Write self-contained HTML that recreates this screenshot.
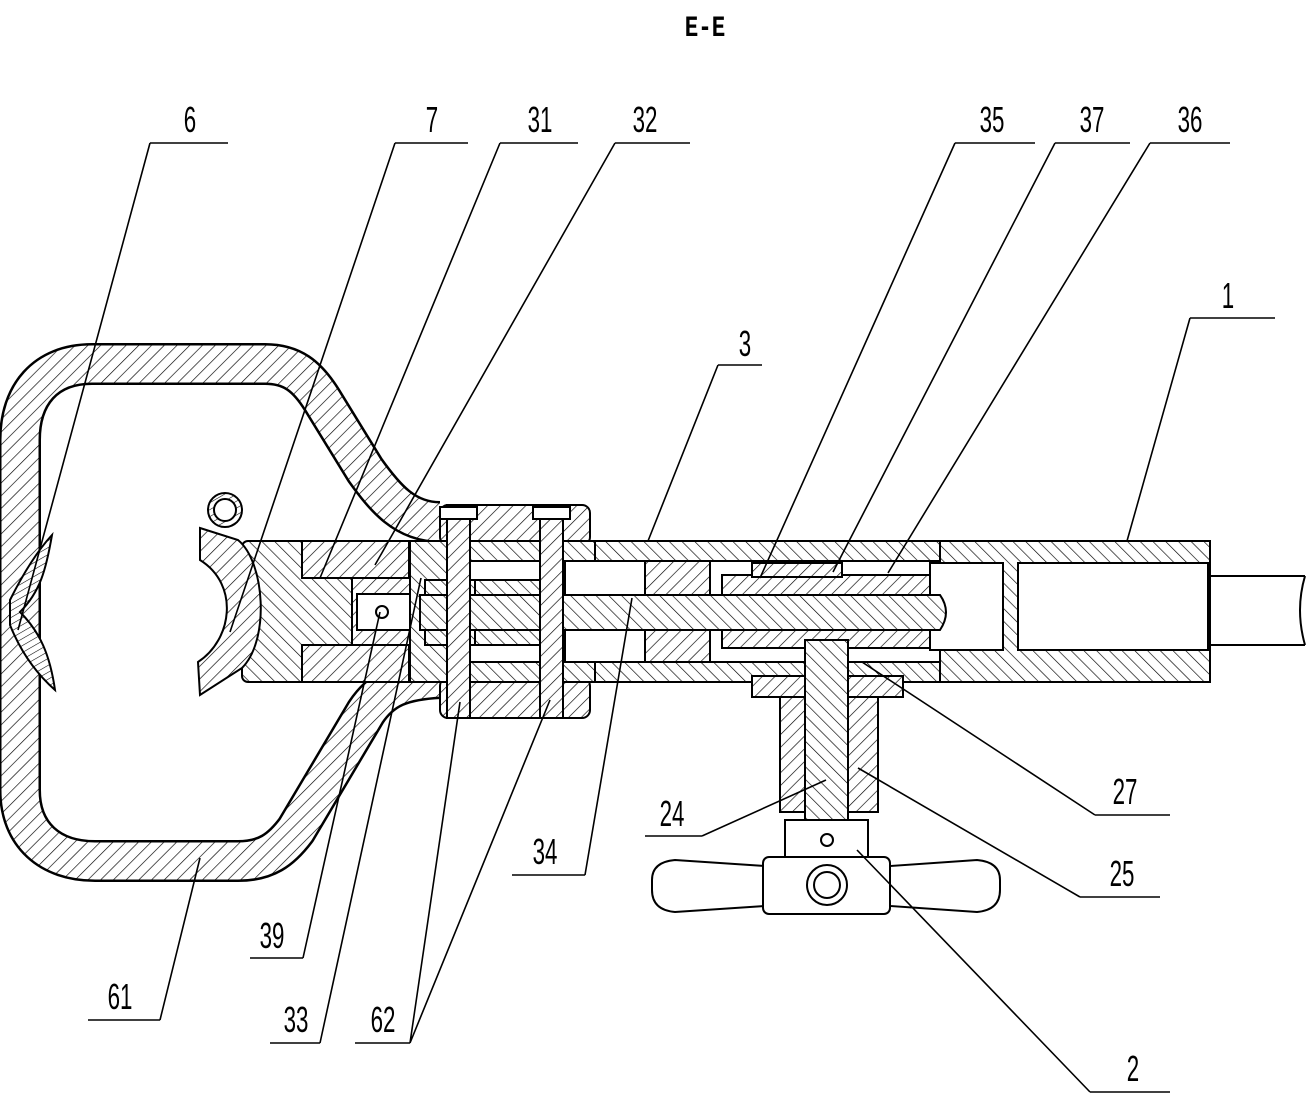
<!DOCTYPE html>
<html><head><meta charset="utf-8"><style>
html,body{margin:0;padding:0;background:#fff;}
svg{display:block}
text{font-family:"Liberation Sans",sans-serif;font-size:36px;fill:#000}
</style></head><body>
<svg width="1312" height="1096" viewBox="0 0 1312 1096" xmlns="http://www.w3.org/2000/svg">
<defs>
<pattern id="h" width="9" height="9" patternUnits="userSpaceOnUse" patternTransform="rotate(45)">
<rect width="9" height="9" fill="#fff"/><line x1="0" y1="0" x2="0" y2="9" stroke="#000" stroke-width="1.3"/></pattern>
<pattern id="g" width="9" height="9" patternUnits="userSpaceOnUse" patternTransform="rotate(-45)">
<rect width="9" height="9" fill="#fff"/><line x1="0" y1="0" x2="0" y2="9" stroke="#000" stroke-width="1.3"/></pattern>
<pattern id="f" width="6" height="6" patternUnits="userSpaceOnUse" patternTransform="rotate(60)">
<rect width="6" height="6" fill="#fff"/><line x1="0" y1="0" x2="0" y2="6" stroke="#000" stroke-width="1.1"/></pattern>
</defs>
<text transform="translate(705,36) scale(0.75,1)" text-anchor="middle" style="font-family:'Liberation Mono',monospace;font-size:30px;font-weight:bold">E-E</text>

<!-- ring 61 -->
<g fill="none" stroke-linejoin="round">
<path d="M440,522 C405,522 385,498 365,470 L322,400 C307,376 292,364 265,364 L92,364 C45,364 20,395 20,440 L20,790 C20,835 50,861 95,861 L238,861 C266,861 281,850 296,830 L366,712 C382,688 402,680 440,678" stroke="#000" stroke-width="42"/>
<path d="M440,522 C405,522 385,498 365,470 L322,400 C307,376 292,364 265,364 L92,364 C45,364 20,395 20,440 L20,790 C20,835 50,861 95,861 L238,861 C266,861 281,850 296,830 L366,712 C382,688 402,680 440,678" stroke="url(#h)" stroke-width="37"/>
</g>
<!-- jaw 6 -->
<path d="M10,600 C25,570 40,548 52,535 C46,570 40,592 20,612 C40,632 50,655 55,690 C38,675 22,655 10,625 Z" fill="url(#f)" stroke="#000" stroke-width="2"/>

<g stroke="#000" stroke-width="2">
<rect x="440" y="505" width="150" height="40" rx="8" fill="url(#h)"/>
<rect x="440" y="678" width="150" height="40" rx="8" fill="url(#h)"/>
<rect x="242" y="541" width="180" height="141" rx="6" fill="url(#g)"/>
<rect x="302" y="541" width="107" height="37" fill="url(#h)"/>
<rect x="302" y="645" width="107" height="37" fill="url(#h)"/>
<rect x="352" y="578" width="60" height="67" fill="url(#h)"/>
<rect x="357" y="594" width="68" height="36" fill="#fff"/>
<circle cx="382" cy="612" r="6" fill="#fff"/>
<rect x="410" y="541" width="185" height="141" fill="url(#g)"/>
<rect x="470" y="561" width="140" height="19" fill="#fff"/>
<rect x="470" y="645" width="140" height="17" fill="#fff"/>
<rect x="425" y="580" width="50" height="65" fill="url(#g)"/>
<rect x="595" y="541" width="345" height="141" fill="url(#g)"/>
<rect x="565" y="561" width="80" height="34" fill="#fff"/>
<rect x="565" y="630" width="80" height="32" fill="#fff"/>
<rect x="645" y="561" width="65" height="34" fill="url(#h)"/>
<rect x="645" y="630" width="65" height="32" fill="url(#h)"/>
<rect x="710" y="561" width="230" height="34" fill="#fff"/>
<rect x="710" y="630" width="230" height="32" fill="#fff"/>
<rect x="722" y="575" width="208" height="20" fill="url(#h)"/>
<rect x="752" y="563" width="90" height="14" fill="url(#h)"/>
<rect x="722" y="630" width="208" height="18" fill="url(#h)"/>
<rect x="940" y="541" width="270" height="141" fill="url(#g)"/>
<rect x="930" y="563" width="73" height="87" fill="#fff"/>
<rect x="1018" y="563" width="190" height="87" fill="#fff"/>
<path d="M420,595 L940,595 Q952,612 940,630 L420,630 Z" fill="url(#g)"/>
<rect x="447" y="505" width="23" height="213" fill="url(#h)"/>
<rect x="540" y="505" width="23" height="213" fill="url(#h)"/>
<rect x="440" y="507" width="37" height="12" fill="#fff"/>
<rect x="533" y="507" width="37" height="12" fill="#fff"/>
<rect x="752" y="676" width="151" height="21" fill="url(#h)"/>
<rect x="780" y="697" width="98" height="115" fill="url(#h)"/>
<rect x="805" y="640" width="43" height="200" fill="url(#g)"/>
<rect x="785" y="820" width="83" height="38" fill="#fff"/>
<circle cx="827" cy="840" r="6" fill="#fff"/>
<path d="M652,880 Q652,862 675,860 L765,866 L765,906 L675,912 Q652,910 652,890 Z" fill="#fff"/>
<path d="M1000,880 Q1000,862 977,860 L890,866 L890,906 L977,912 Q1000,910 1000,890 Z" fill="#fff"/>
<rect x="763" y="857" width="127" height="57" rx="6" fill="#fff"/>
<circle cx="827" cy="885" r="20" fill="#fff"/>
<circle cx="827" cy="885" r="13" fill="#fff"/>
<path d="M200,528 L238,540 C265,562 270,640 242,668 L200,695 L198,662 C232,640 240,585 200,560 Z" fill="url(#h)"/>
<circle cx="225" cy="510" r="17" fill="url(#f)"/>
<circle cx="225" cy="510" r="11" fill="#fff"/>
</g>
<g stroke="#000" stroke-width="2" fill="none">
<line x1="1210" y1="576" x2="1305" y2="576"/><line x1="1210" y1="645" x2="1305" y2="645"/>
<path d="M1305,576 Q1295,610 1305,645"/>
</g>

<g stroke="#000" stroke-width="1.6" fill="none">
<path d="M150,143H228M150,143L18,630"/>
<path d="M395,143H468M395,143L230,632"/>
<path d="M500,143H578M500,143L320,578"/>
<path d="M615,143H690M615,143L375,565"/>
<path d="M955,143H1035M955,143L760,578"/>
<path d="M1055,143H1130M1055,143L833,572"/>
<path d="M1150,143H1230M1150,143L888,573"/>
<path d="M1190,318H1275M1190,318L1127,541"/>
<path d="M718,365H762M718,365L648,541"/>
<path d="M1095,815H1170M1095,815L862,662"/>
<path d="M1080,897H1160M1080,897L858,768"/>
<path d="M645,836H702M702,836L826,780"/>
<path d="M512,875H585M585,875L632,598"/>
<path d="M1090,1092H1170M1090,1092L857,850"/>
<path d="M88,1020H160M160,1020L200,858"/>
<path d="M250,958H303M303,958L380,612"/>
<path d="M270,1043H320M320,1043L421,578"/>
<path d="M355,1043H410M410,1043L460,702M410,1043L550,700"/>
</g>
<g text-anchor="middle">
<text transform="translate(190,132) scale(0.62,1)">6</text>
<text transform="translate(432,132) scale(0.62,1)">7</text>
<text transform="translate(540,132) scale(0.62,1)">31</text>
<text transform="translate(645,132) scale(0.62,1)">32</text>
<text transform="translate(992,132) scale(0.62,1)">35</text>
<text transform="translate(1092,132) scale(0.62,1)">37</text>
<text transform="translate(1190,132) scale(0.62,1)">36</text>
<text transform="translate(1228,308) scale(0.62,1)">1</text>
<text transform="translate(745,356) scale(0.62,1)">3</text>
<text transform="translate(1125,804) scale(0.62,1)">27</text>
<text transform="translate(1122,886) scale(0.62,1)">25</text>
<text transform="translate(672,826) scale(0.62,1)">24</text>
<text transform="translate(545,864) scale(0.62,1)">34</text>
<text transform="translate(1133,1081) scale(0.62,1)">2</text>
<text transform="translate(120,1009) scale(0.62,1)">61</text>
<text transform="translate(272,948) scale(0.62,1)">39</text>
<text transform="translate(296,1032) scale(0.62,1)">33</text>
<text transform="translate(383,1032) scale(0.62,1)">62</text>
</g>
</svg>
</body></html>
